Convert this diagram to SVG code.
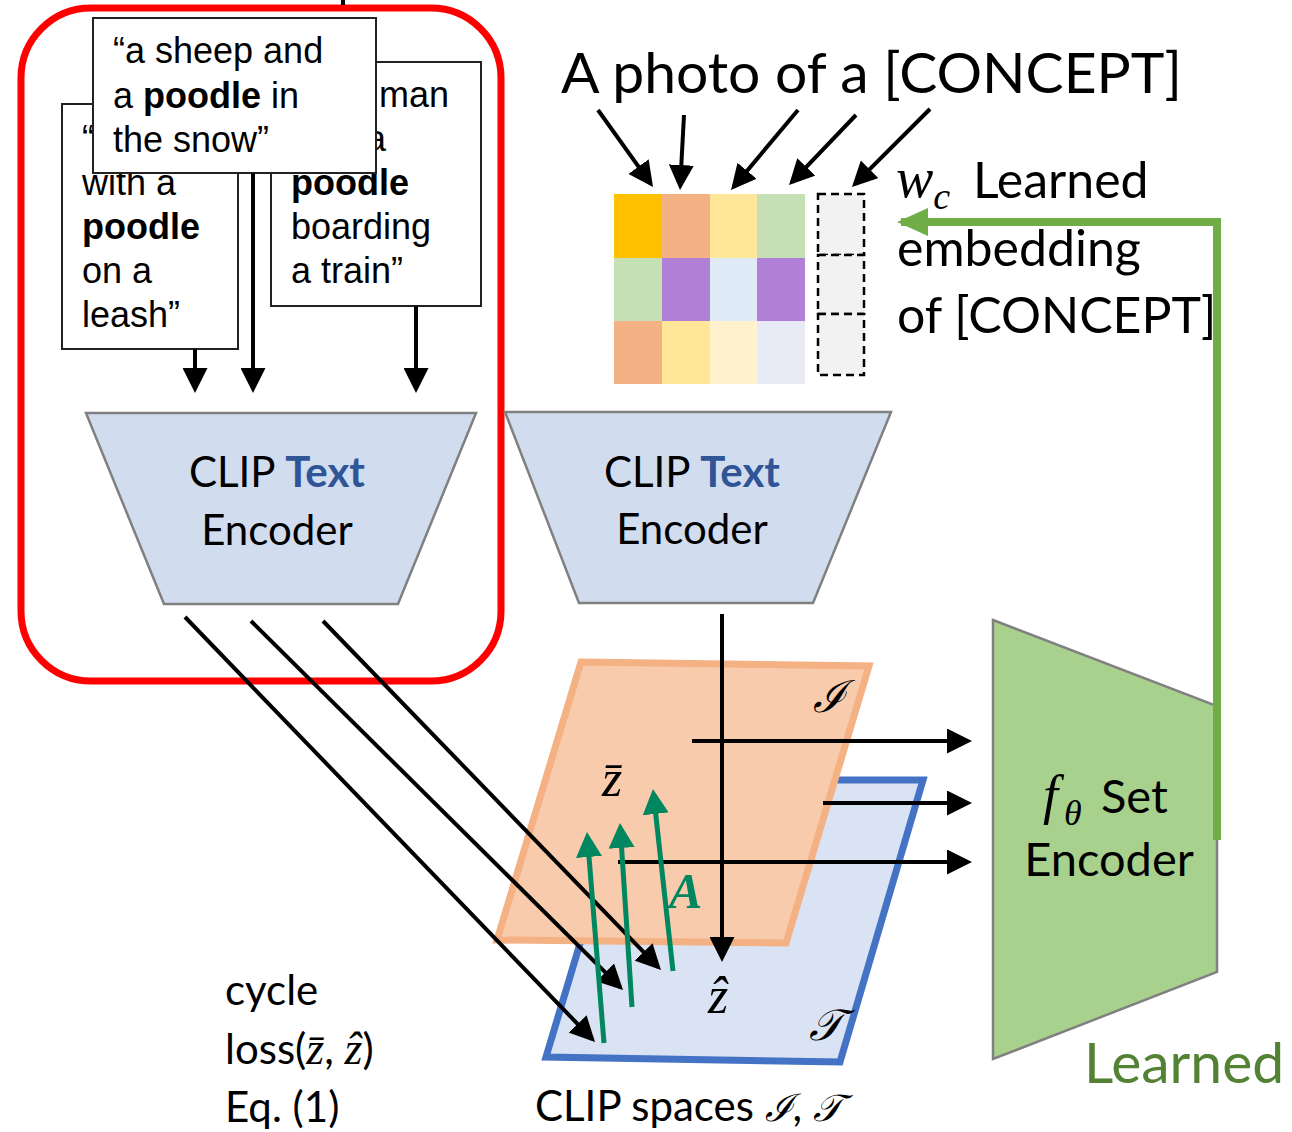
<svg xmlns="http://www.w3.org/2000/svg" width="1292" height="1132" viewBox="0 0 1292 1132">
<style>
.sans{font-family:Lato,"Open Sans","Liberation Sans",sans-serif;fill:#000}
.arial{font-family:"Liberation Sans",Arial,sans-serif;font-size:36px;fill:#000}
.b{font-weight:bold}
.math{font-family:"Liberation Serif","DejaVu Serif",serif;font-style:italic}
.box{fill:#fff;stroke:#222;stroke-width:2}
.enc{fill:#D1DCEF;stroke:#808080;stroke-width:2.5}
.ln{stroke:#000;stroke-width:4;fill:none}
.tl{stroke:#00875F;stroke-width:5;fill:none}
.dash{fill:#F2F2F2;stroke:#000;stroke-width:2.5;stroke-dasharray:8 5}
.blue{fill:#2F5597}
.green{fill:#548235}
.teal{fill:#00875F}
</style>
<defs>
<marker id="ab" markerUnits="userSpaceOnUse" markerWidth="25" markerHeight="25" refX="21" refY="12.5" orient="auto"><path d="M0,0 L25,12.5 L0,25 z" fill="#000"/></marker>
<marker id="at" markerUnits="userSpaceOnUse" markerWidth="25" markerHeight="26" refX="20" refY="13" orient="auto"><path d="M0,0 L25,13 L0,26 z" fill="#00875F"/></marker>
<marker id="ag" markerUnits="userSpaceOnUse" markerWidth="31" markerHeight="28" refX="27" refY="14" orient="auto"><path d="M0,0 L31,14 L0,28 z" fill="#70AD47"/></marker>
</defs>
<rect width="1292" height="1132" fill="#fff"/>

<g id="text-encoder-frame">
<rect x="21" y="8" width="480" height="673" rx="70" ry="70" fill="none" stroke="#FF0000" stroke-width="7"/>
</g>

<g id="prompt-left">
<rect class="box" x="62" y="104" width="176" height="245"/>
<text class="arial" x="82" y="151">“</text>
<text class="arial" x="82" y="195">with a</text>
<text class="arial b" x="82" y="239">poodle</text>
<text class="arial" x="82" y="283">on a</text>
<text class="arial" x="82" y="327">leash”</text>
</g>

<g id="prompt-right">
<rect class="box" x="271" y="62" width="210" height="244"/>
<text class="arial" x="379" y="107">man</text>
<text class="arial" x="366" y="151">a</text>
<text class="arial b" x="291" y="195">poodle</text>
<text class="arial" x="291" y="239">boarding</text>
<text class="arial" x="291" y="283">a train”</text>
</g>

<g id="prompt-front">
<rect class="box" x="93" y="18" width="283" height="155"/>
<text class="arial" x="113" y="63">“a sheep and</text>
<text class="arial" x="113" y="108">a <tspan class="b">poodle</tspan> in</text>
<text class="arial" x="113" y="152">the snow”</text>
</g>

<g id="clip-text-encoder-1">
<polygon class="enc" points="86,413 476,413 398,604 164,604"/>
<text class="sans" font-size="42" x="277" y="487" text-anchor="middle">CLIP <tspan class="b blue">Text</tspan></text>
<text class="sans" font-size="42" x="277" y="545" text-anchor="middle">Encoder</text>
</g>

<g id="clip-text-encoder-2">
<polygon class="enc" points="505,412 891,412 813,603 579,603"/>
<text class="sans" font-size="42" x="692" y="487" text-anchor="middle">CLIP <tspan class="b blue">Text</tspan></text>
<text class="sans" font-size="42" x="692" y="544" text-anchor="middle">Encoder</text>
</g>

<g id="prompt-template">
<text class="sans" font-size="57" x="561" y="93">A photo of a [CONCEPT]</text>
</g>

<g id="token-embeddings">
<rect x="614" y="194" width="48" height="64" fill="#FFC000"/>
<rect x="662" y="194" width="48" height="64" fill="#F4B183"/>
<rect x="710" y="194" width="47" height="64" fill="#FFE699"/>
<rect x="757" y="194" width="48" height="64" fill="#C5E0B4"/>
<rect x="614" y="258" width="48" height="63" fill="#C5E0B4"/>
<rect x="662" y="258" width="48" height="63" fill="#B07FD6"/>
<rect x="710" y="258" width="47" height="63" fill="#DEEBF7"/>
<rect x="757" y="258" width="48" height="63" fill="#B07FD6"/>
<rect x="614" y="321" width="48" height="63" fill="#F4B183"/>
<rect x="662" y="321" width="48" height="63" fill="#FFE699"/>
<rect x="710" y="321" width="47" height="63" fill="#FFF2CC"/>
<rect x="757" y="321" width="48" height="63" fill="#E8EAF5"/>
</g>

<g id="concept-embedding">
<rect class="dash" x="818" y="194" width="46" height="61"/>
<rect class="dash" x="818" y="255" width="46" height="59"/>
<rect class="dash" x="818" y="314" width="46" height="61"/>
<text class="math" font-size="56" x="896" y="197">w<tspan font-size="38" dy="12">c</tspan></text>
<text class="sans" font-size="50" x="973" y="198">Learned</text>
<text class="sans" font-size="50" x="897" y="266">embedding</text>
<text class="sans" font-size="50" x="897" y="333">of [CONCEPT]</text>
</g>

<g id="clip-space-T">
<polygon points="629,780 923,780 840,1062 546,1057" fill="#DAE3F3" stroke="#4472C4" stroke-width="7"/>
<text class="math" font-size="44" x="826" y="1040" text-anchor="middle">𝒯</text>
</g>

<g id="clip-space-I">
<polygon points="581,662 869,666 786,943 497,940" fill="#F8CBAD" stroke="#F4B183" stroke-width="7"/>
<text class="math" font-size="44" x="829" y="712" text-anchor="middle">ℐ</text>
</g>

<g id="set-encoder">
<polygon points="993,620 1217,706 1217,972 993,1059" fill="#A9D18E" stroke="#808080" stroke-width="2.5"/>
<text class="math" font-size="54" x="1043" y="813">f</text>
<text class="math" font-size="36" x="1064" y="825">θ</text>
<text class="sans" font-size="47" x="1101" y="813">Set</text>
<text class="sans" font-size="47" x="1109" y="876" text-anchor="middle">Encoder</text>
</g>

<g id="connectors">
<line class="ln" x1="343" y1="0" x2="343" y2="5" stroke-width="3"/>
<line class="ln" x1="195" y1="349" x2="195" y2="389" marker-end="url(#ab)"/>
<line class="ln" x1="253" y1="173" x2="253" y2="389" marker-end="url(#ab)"/>
<line class="ln" x1="416" y1="306" x2="416" y2="389" marker-end="url(#ab)"/>
<line class="ln" x1="598" y1="110" x2="650.7" y2="183.7" marker-end="url(#ab)"/>
<line class="ln" x1="684" y1="115" x2="680.2" y2="186" marker-end="url(#ab)"/>
<line class="ln" x1="798" y1="110" x2="733.6" y2="186.9" marker-end="url(#ab)"/>
<line class="ln" x1="856" y1="115" x2="791.8" y2="182.1" marker-end="url(#ab)"/>
<line class="ln" x1="930" y1="109" x2="854.8" y2="184.2" marker-end="url(#ab)"/>
<line class="ln" x1="185" y1="617" x2="592.2" y2="1039.1" marker-end="url(#ab)"/>
<line class="ln" x1="251" y1="621" x2="620.2" y2="987.2" marker-end="url(#ab)"/>
<line class="ln" x1="323" y1="621" x2="658.2" y2="967.1" marker-end="url(#ab)"/>
<line class="ln" x1="722" y1="614" x2="722" y2="958" marker-end="url(#ab)"/>
<line class="ln" x1="692" y1="741" x2="968" y2="741" marker-end="url(#ab)"/>
<line class="ln" x1="823" y1="803" x2="968" y2="803" marker-end="url(#ab)"/>
<line class="ln" x1="618" y1="862" x2="968" y2="862" marker-end="url(#ab)"/>
<line class="tl" x1="604" y1="1043" x2="587.4" y2="837" marker-end="url(#at)"/>
<line class="tl" x1="632" y1="1007" x2="620.3" y2="828" marker-end="url(#at)"/>
<line class="tl" x1="673" y1="971" x2="653.5" y2="794" marker-end="url(#at)"/>
<polyline points="1217,840 1217,222 901,222" fill="none" stroke="#70AD47" stroke-width="8" marker-end="url(#ag)"/>
</g>

<g id="labels">
<text class="math" font-size="52" x="602" y="796">z̄</text>
<text class="math" font-size="52" x="708" y="1013">ẑ</text>
<text class="math b teal" font-size="50" x="669" y="908">A</text>
<text class="sans" font-size="42" x="225" y="1005">cycle</text>
<text class="sans" font-size="42" x="225" y="1064">loss(<tspan class="math" font-size="46">z̄</tspan>, <tspan class="math" font-size="46">ẑ</tspan>)</text>
<text class="sans" font-size="42" x="225" y="1122">Eq. (1)</text>
<text class="sans" font-size="42" x="535" y="1121">CLIP spaces <tspan class="math" font-size="38">ℐ</tspan>, <tspan class="math" font-size="38">𝒯</tspan></text>
<text class="sans green" font-size="57" x="1084" y="1083">Learned</text>
</g>
</svg>
